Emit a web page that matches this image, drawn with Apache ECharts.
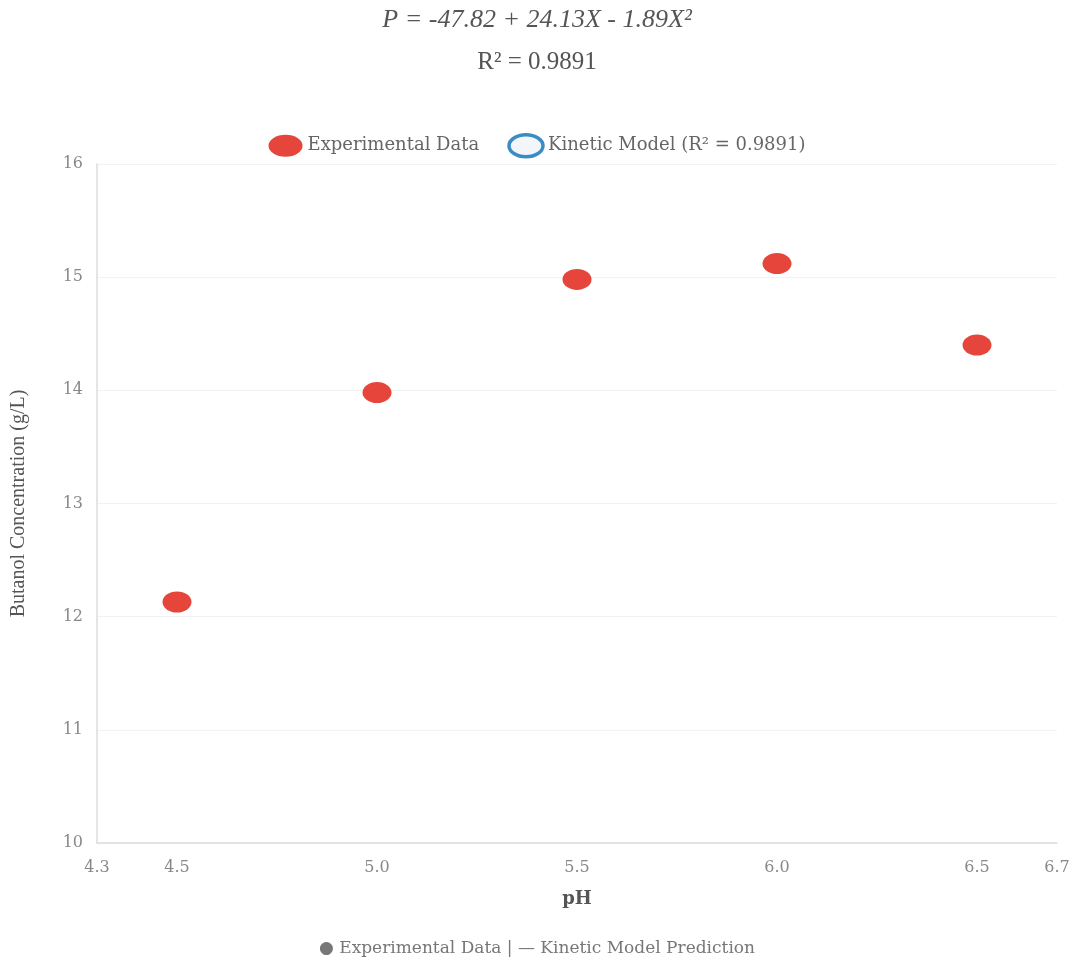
<!DOCTYPE html>
<html>
<head>
<meta charset="utf-8">
<script src="https://cdn.jsdelivr.net/npm/echarts@6/dist/echarts.min.js"></script>
<style>
  html, body { margin: 0; padding: 0; background: #fff; }
  #chart { width: 1074px; height: 961px; }
</style>
</head>
<body>
<div id="chart"></div>
<script>
// pH levels tested and measured butanol titres
const phValues = [4.5, 5.0, 5.5, 6.0, 6.5];
const butanolValues = [12.13, 13.98, 14.98, 15.12, 14.40];
// model curve points (none plotted)
const modelValues = [];
const xTickValues = [4.3, 4.5, 5.0, 5.5, 6.0, 6.5, 6.7];

const expName = 'Experimental Data';
const modelName = 'Kinetic Model (R\u00b2 = 0.9891)';

// ellipse outline used for the legend icons
const ellipseIcon = 'path://M0,10A15,10,0,1,1,30,10A15,10,0,1,1,0,10Z';

const chart = echarts.init(document.getElementById('chart'));
chart.setOption({
  animation: false,
  backgroundColor: '#ffffff',
  title: [
    {
      text: 'P = -47.82 + 24.13X - 1.89X\u00b2',
      left: 'center', top: 2,
      textStyle: { fontFamily: 'Liberation Serif', fontStyle: 'italic', fontWeight: 'normal', fontSize: 26, color: '#555' }
    },
    {
      text: 'R\u00b2 = 0.9891',
      left: 'center', top: 45,
      textStyle: { fontFamily: 'Liberation Serif', fontWeight: 'normal', fontSize: 25, color: '#555' }
    },
    {
      text: '\u25cf Experimental Data | \u2014 Kinetic Model Prediction',
      left: 'center', top: 935,
      textStyle: { fontFamily: 'DejaVu Serif', fontWeight: 'normal', fontSize: 17, color: '#777' }
    }
  ],
  legend: {
    top: 128, left: 'center',
    itemGap: 28,
    itemWidth: 34, itemHeight: 22,
    symbolKeepAspect: false,
    textStyle: { fontFamily: 'DejaVu Serif', fontSize: 18, color: '#666' },
    data: [
      { name: expName, icon: ellipseIcon, itemStyle: { color: '#e5453a', borderWidth: 0 } },
      { name: modelName, icon: ellipseIcon, itemStyle: { color: '#f2f6fb', borderColor: '#3a8cc4', borderWidth: 3.5 } }
    ]
  },
  grid: { left: 97, right: 17, top: 164, bottom: 118, containLabel: false },
  xAxis: {
    type: 'value', min: 4.3, max: 6.7,
    name: 'pH', nameLocation: 'middle', nameGap: 47,
    nameTextStyle: { fontFamily: 'DejaVu Serif', fontWeight: 'bold', fontSize: 18, color: '#555' },
    axisLine: { show: true, lineStyle: { color: '#ddd', width: 1.5 } },
    axisTick: { show: false },
    splitLine: { show: false },
    axisLabel: {
      customValues: xTickValues,
      formatter: v => v.toFixed(1),
      margin: 17,
      fontFamily: 'DejaVu Serif', fontSize: 16, color: '#888'
    }
  },
  yAxis: {
    type: 'value', min: 10, max: 16, interval: 1,
    name: 'Butanol Concentration (g/L)', nameLocation: 'middle', nameGap: 68,
    nameTextStyle: { fontFamily: ['Liberation Sans Narrow', 'Liberation Serif'], fontSize: 20, color: '#555' },
    axisLine: { show: true, lineStyle: { color: '#ddd', width: 1.5 } },
    axisTick: { show: false },
    splitLine: { show: true, lineStyle: { color: '#f2f2f2', width: 1 } },
    axisLabel: { margin: 14, fontFamily: 'DejaVu Serif', fontSize: 16, color: '#888' }
  },
  series: [
    {
      name: expName,
      type: 'scatter',
      symbol: 'circle',
      symbolSize: [29, 21],
      itemStyle: { color: '#e5453a', opacity: 1 },
      data: phValues.map((x, i) => [x, butanolValues[i]])
    },
    {
      name: modelName,
      type: 'line',
      symbol: 'circle',
      itemStyle: { color: '#f2f6fb', borderColor: '#3a8cc4', borderWidth: 3 },
      lineStyle: { color: '#3a8cc4', width: 2 },
      data: modelValues
    }
  ]
});
</script>
</body>
</html>
